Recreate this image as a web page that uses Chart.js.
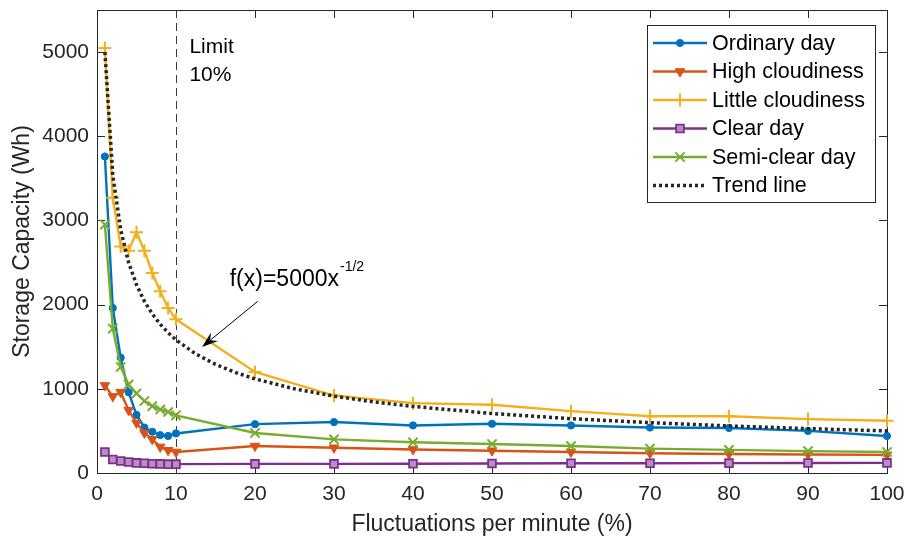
<!DOCTYPE html>
<html lang="en">
<head>
    <meta charset="UTF-8">
    <title>Storage Capacity vs Fluctuations</title>
    <script src="https://cdn.jsdelivr.net/npm/chart.js@4.4.0/dist/chart.umd.min.js"></script>
    <style>
        html, body { margin: 0; padding: 0; background: #fff; }
        #wrap { width: 907px; height: 540px; }
    </style>
</head>
<body>
    <div id="wrap"><canvas id="storageChart" width="907" height="540"></canvas></div>
    <script>
        // Fluctuation levels (% per minute)
        const fluctuations = [1, 2, 3, 4, 5, 6, 7, 8, 9, 10, 20, 30, 40, 50, 60, 70, 80, 90, 100];

        // Storage capacity (Wh) per day type
        const ordinaryDay       = [3760, 1960, 1370, 960, 690, 540, 490, 450, 440, 470, 580, 605, 565, 585, 565, 540, 535, 500, 440];
        const highCloudiness    = [1040, 910, 960, 745, 595, 475, 400, 310, 270, 250, 320, 300, 280, 265, 250, 235, 225, 220, 215];
        const littleCloudiness  = [5050, 3270, 2690, 2640, 2860, 2640, 2375, 2160, 1960, 1825, 1200, 920, 830, 810, 735, 675, 675, 640, 620];
        const clearDay          = [250, 160, 143, 130, 120, 115, 110, 108, 105, 105, 108, 108, 110, 112, 115, 115, 117, 118, 120];
        const semiClearDay      = [2950, 1715, 1260, 1050, 945, 855, 795, 755, 725, 685, 475, 400, 365, 345, 320, 290, 275, 260, 250];

        // Trend line f(x) = 5000 x^-1/2
        const trendX = [1, 2, 3, 4, 5, 6, 7, 8, 9, 10, 12.5, 15, 17.5, 20, 25, 30, 35, 40, 50, 60, 70, 80, 90, 100];
        const trendY = [5000, 3536, 2887, 2500, 2236, 2041, 1890, 1768, 1667, 1581, 1414, 1291, 1195, 1118, 1000, 913, 845, 791, 707, 645, 598, 559, 527, 500];

        const xTicks = [0, 10, 20, 30, 40, 50, 60, 70, 80, 90, 100];
        const yTicks = [0, 1000, 2000, 3000, 4000, 5000];
        const limitX = 10;

        const FONT = "'Liberation Sans', Arial, Helvetica, sans-serif";
        const TEXT = '#262626';

        function points(xs, ys) {
            return xs.map((x, i) => ({ x: x, y: ys[i] }));
        }

        const datasets = [
            {
                label: 'Ordinary day', data: points(fluctuations, ordinaryDay),
                borderColor: '#0072BD', backgroundColor: '#0072BD',
                pointStyle: 'circle', pointRadius: 3.6, pointBorderWidth: 1, order: 5
            },
            {
                label: 'High cloudiness', data: points(fluctuations, highCloudiness),
                borderColor: '#D95319', backgroundColor: '#D95319',
                pointStyle: 'triangle', pointRotation: 180, pointRadius: 5.5, pointBorderWidth: 1, order: 4
            },
            {
                label: 'Little cloudiness', data: points(fluctuations, littleCloudiness),
                borderColor: '#F2B01E', backgroundColor: '#F2B01E',
                pointStyle: 'cross', pointRadius: 6.5, pointBorderWidth: 2, order: 3
            },
            {
                label: 'Clear day', data: points(fluctuations, clearDay),
                borderColor: '#7E2F8E', backgroundColor: '#B98EC2',
                pointStyle: 'rect', pointRadius: 5.5, pointBorderWidth: 1.8, order: 2
            },
            {
                label: 'Semi-clear day', data: points(fluctuations, semiClearDay),
                borderColor: '#77AC30', backgroundColor: '#77AC30',
                pointStyle: 'crossRot', pointRadius: 6.5, pointBorderWidth: 2, order: 1
            },
            {
                label: 'Trend line', data: points(trendX, trendY),
                borderColor: '#262626', backgroundColor: '#262626',
                borderDash: [3, 3], borderWidth: 3.5, pointRadius: 0, order: 0
            }
        ];

        datasets.forEach(d => {
            if (d.borderWidth === undefined) d.borderWidth = 2.4;
            d.pointBackgroundColor = d.backgroundColor;
            d.pointBorderColor = d.borderColor;
            d.tension = 0;
            d.clip = false;
        });

        // axes box, inward tick marks and the dashed limit line
        const framePlugin = {
            id: 'frame',
            beforeDatasetsDraw(chart) {
                const { ctx, chartArea: a, scales: { x, y } } = chart;
                ctx.save();
                ctx.strokeStyle = TEXT;
                ctx.lineWidth = 1;
                ctx.strokeRect(Math.round(a.left) + 0.5, Math.round(a.top) + 0.5,
                    Math.round(a.right - a.left), Math.round(a.bottom - a.top));
                ctx.beginPath();
                xTicks.forEach(v => {
                    const px = Math.round(x.getPixelForValue(v)) + 0.5;
                    ctx.moveTo(px, a.bottom); ctx.lineTo(px, a.bottom - 8);
                    ctx.moveTo(px, a.top); ctx.lineTo(px, a.top + 8);
                });
                yTicks.forEach(v => {
                    const py = Math.round(y.getPixelForValue(v)) + 0.5;
                    ctx.moveTo(a.left, py); ctx.lineTo(a.left + 8, py);
                    ctx.moveTo(a.right, py); ctx.lineTo(a.right - 8, py);
                });
                ctx.stroke();

                const lx = Math.round(x.getPixelForValue(limitX)) + 0.5;
                ctx.strokeStyle = '#3a3a3a';
                ctx.setLineDash([8, 5]);
                ctx.beginPath();
                ctx.moveTo(lx, a.bottom);
                ctx.lineTo(lx, a.top);
                ctx.stroke();
                ctx.restore();
            }
        };

        // text notes, arrow and the boxed legend
        const notesPlugin = {
            id: 'notes',
            afterDraw(chart) {
                const { ctx, scales: { x, y } } = chart;
                ctx.save();
                ctx.fillStyle = '#000';
                ctx.textBaseline = 'middle';
                ctx.textAlign = 'left';
                ctx.font = '21px ' + FONT;
                ctx.fillText('Limit', x.getPixelForValue(11.7), y.getPixelForValue(5060));
                ctx.fillText('10%', x.getPixelForValue(11.7), y.getPixelForValue(4730));

                const fx = x.getPixelForValue(16.8);
                const fy = y.getPixelForValue(2300);
                const main = 'f(x)=5000x';
                ctx.font = '23px ' + FONT;
                ctx.fillText(main, fx, fy);
                const w = ctx.measureText(main).width;
                ctx.font = '14px ' + FONT;
                ctx.fillText('-1/2', fx + w + 1, fy - 12);

                // arrow pointing at the trend line
                const tx = x.getPixelForValue(20.35), ty = y.getPixelForValue(2040);
                const hx = x.getPixelForValue(13.3), hy = y.getPixelForValue(1498);
                const len = Math.hypot(hx - tx, hy - ty);
                const ux = (hx - tx) / len, uy = (hy - ty) / len;
                const nx = -uy, ny = ux;
                const L = 16, W = 5.5;
                ctx.strokeStyle = '#000';
                ctx.lineWidth = 1;
                ctx.beginPath();
                ctx.moveTo(tx, ty);
                ctx.lineTo(hx - ux * L * 0.6, hy - uy * L * 0.6);
                ctx.stroke();
                ctx.beginPath();
                ctx.moveTo(hx, hy);
                ctx.lineTo(hx - ux * L + nx * W, hy - uy * L + ny * W);
                ctx.lineTo(hx - ux * L * 0.65, hy - uy * L * 0.65);
                ctx.lineTo(hx - ux * L - nx * W, hy - uy * L - ny * W);
                ctx.closePath();
                ctx.fill();

                // legend
                const box = { left: 647.5, top: 25.5, right: 875.5, bottom: 202.5 };
                ctx.fillStyle = '#fff';
                ctx.fillRect(box.left, box.top, box.right - box.left, box.bottom - box.top);
                ctx.strokeStyle = '#262626';
                ctx.lineWidth = 1;
                ctx.strokeRect(box.left, box.top, box.right - box.left, box.bottom - box.top);
                ctx.font = '21.5px ' + FONT;
                datasets.forEach((d, i) => {
                    const rowY = 43 + i * 28.5;
                    ctx.save();
                    ctx.strokeStyle = d.borderColor;
                    ctx.lineWidth = d.borderWidth;
                    if (d.borderDash) ctx.setLineDash(d.borderDash);
                    ctx.beginPath();
                    ctx.moveTo(653, rowY);
                    ctx.lineTo(707, rowY);
                    ctx.stroke();
                    ctx.restore();
                    if (d.pointRadius > 0) {
                        ctx.save();
                        ctx.fillStyle = d.pointBackgroundColor;
                        ctx.strokeStyle = d.pointBorderColor;
                        ctx.lineWidth = d.pointBorderWidth;
                        Chart.helpers.drawPoint(ctx, {
                            pointStyle: d.pointStyle,
                            rotation: d.pointRotation || 0,
                            radius: d.pointRadius,
                            borderWidth: d.pointBorderWidth
                        }, 680, rowY);
                        ctx.restore();
                    }
                    ctx.fillStyle = '#000';
                    ctx.fillText(d.label, 712, rowY + 1);
                });
                ctx.restore();
            }
        };

        new Chart(document.getElementById('storageChart').getContext('2d'), {
            type: 'line',
            data: { datasets: datasets },
            options: {
                responsive: false,
                animation: false,
                layout: { padding: { top: 10, right: 20, left: 0, bottom: 0 } },
                plugins: {
                    legend: { display: false },
                    tooltip: { enabled: false }
                },
                scales: {
                    x: {
                        type: 'linear',
                        min: 0,
                        max: 100,
                        afterBuildTicks: s => { s.ticks = xTicks.map(v => ({ value: v })); },
                        afterFit: s => { s.height = 67; s.paddingLeft = 0; s.paddingRight = 0; },
                        ticks: { padding: 9, color: TEXT, font: { size: 21, family: FONT }, maxRotation: 0 },
                        grid: { display: false, drawTicks: false },
                        border: { display: false },
                        title: {
                            display: true,
                            text: 'Fluctuations per minute (%)',
                            color: TEXT,
                            font: { size: 23, family: FONT },
                            padding: { top: 0, bottom: 2 }
                        }
                    },
                    y: {
                        type: 'linear',
                        min: 0,
                        max: 5500,
                        afterBuildTicks: s => { s.ticks = yTicks.map(v => ({ value: v })); },
                        afterFit: s => { s.width = 97; s.paddingTop = 0; s.paddingBottom = 0; },
                        ticks: {
                            padding: 8, color: TEXT, font: { size: 21, family: FONT },
                            callback: v => String(v)
                        },
                        grid: { display: false, drawTicks: false },
                        border: { display: false },
                        title: {
                            display: true,
                            text: 'Storage Capacity (Wh)',
                            color: TEXT,
                            font: { size: 23, family: FONT },
                            padding: { top: 9, bottom: 0 }
                        }
                    }
                }
            },
            plugins: [framePlugin, notesPlugin]
        });
    </script>
</body>
</html>
